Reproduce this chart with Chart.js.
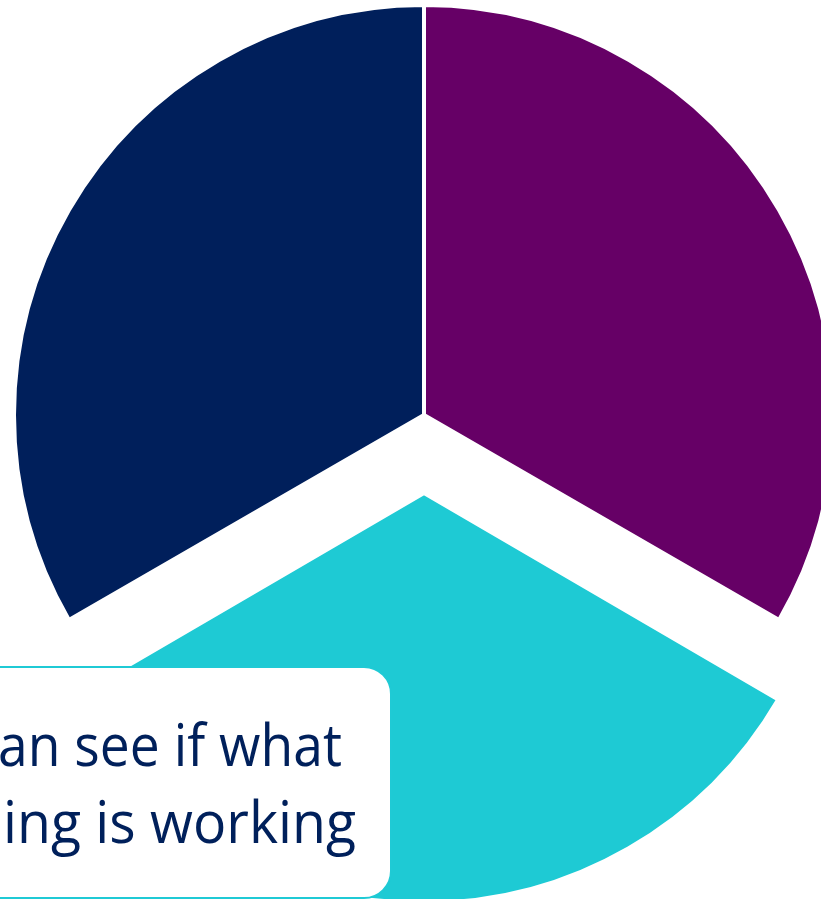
<!DOCTYPE html>
<html lang="en">
<head>
    <meta charset="UTF-8">
    <script src="https://cdn.jsdelivr.net/npm/chart.js"></script>
    <title>Pie</title>
    <style>
        body {
            margin: 0;
            padding: 0;
            background: #ffffff;
            width: 821px;
            height: 899px;
            overflow: hidden;
            position: relative;
        }
        #pieWrap {
            position: absolute;
            left: 0;
            top: -85px;
            width: 848px;
            height: 1000px;
        }
        .callout {
            position: absolute;
            left: -40px;
            top: 666px;
            width: 428px;
            height: 229px;
            background: #ffffff;
            border: 2px solid #1fcad5;
            border-radius: 28px;
            overflow: hidden;
        }
        .callout span {
            position: absolute;
            white-space: nowrap;
            font-family: "Open Sans", sans-serif;
            font-size: 59px;
            line-height: 1;
            color: #00205b;
            transform-origin: 0 0;
        }
    </style>
</head>
<body>
    <div id="pieWrap"><canvas id="pieChart" width="848" height="1000"></canvas></div>
    <div class="callout">
        <span id="line1">an see if what</span>
        <span id="line2">ing is working</span>
    </div>

    <script>
        const labels = ['Right', 'Bottom', 'Left'];
        const values = [1, 1, 1];
        const colours = ['#660066', '#1ecad4', '#001f5b'];
        const offsets = [0, 312, 0];

        // keep the pulled-out slice at the same radius as the others
        const sameRadius = {
            id: 'sameRadius',
            beforeDatasetsDraw(chart) {
                const arcs = chart.getDatasetMeta(0).data;
                const r = arcs[0].outerRadius;
                arcs.forEach((arc, i) => {
                    const shift = offsets[i] / 4;
                    const fix = 1 - Math.sin(Math.min(Math.PI, arc.circumference));
                    arc.outerRadius = r - shift * fix;
                });
            }
        };

        new Chart(document.getElementById('pieChart'), {
            type: 'pie',
            data: {
                labels: labels,
                datasets: [{
                    data: values,
                    backgroundColor: colours,
                    borderColor: '#ffffff',
                    borderWidth: 4,
                    offset: offsets,
                    hoverOffset: 0
                }]
            },
            options: {
                responsive: false,
                animation: false,
                radius: 410,
                layout: { padding: 0 },
                plugins: {
                    legend: { display: false },
                    tooltip: { enabled: false }
                }
            },
            plugins: [sameRadius]
        });

        // fit the callout lines to where they sit in the picture
        function place(id, left, right, baseTop) {
            const el = document.getElementById(id);
            const w = el.getBoundingClientRect().width;
            el.style.left = left + 'px';
            el.style.top = baseTop + 'px';
            el.style.transform = 'scaleX(' + ((right - left) / w) + ')';
        }
        place('line1', 40 - 4, 40 + 340, 46);
        place('line2', 40 + 1, 40 + 354, 123);
    </script>
</body>
</html>
